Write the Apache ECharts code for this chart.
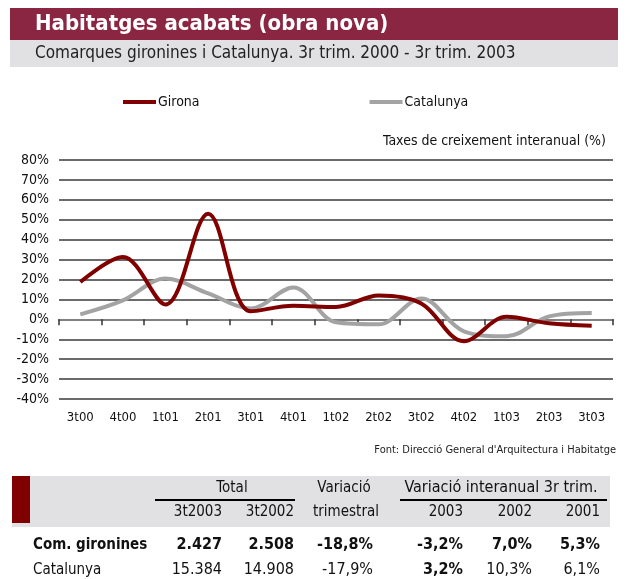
<!DOCTYPE html>
<html lang="ca" style="height: 100%">
<head>
    <meta charset="UTF-8">
    <title>Habitatges acabats (obra nova)</title>
    <script src="https://cdn.jsdelivr.net/npm/echarts@6/dist/echarts.min.js"></script>
</head>
<body style="height: 100%; margin: 0; background: #fff">
<div id="container" style="width: 630px; height: 579px"></div>
<script type="text/javascript">
    // dades del grafic
    var quarters = ['3t00', '4t00', '1t01', '2t01', '3t01', '4t01', '1t02', '2t02', '3t02', '4t02', '1t03', '2t03', '3t03'];
    var girona = [18.7, 31.3, 7.5, 53, 4, 6.8, 6.2, 12, 8, -11, 1.3, -2, -3.2];
    var catalunya = [2.5, 9.5, 20.5, 13, 5.5, 16, -1.5, -2.5, 10.5, -6, -8.5, 1.5, 3.2];

    // dades de la taula
    var rowNames = ['Com. gironines', 'Catalunya'];
    var total2003 = ['2.427', '15.384'];
    var total2002 = ['2.508', '14.908'];
    var varTrim = ['-18,8%', '-17,9%'];
    var inter2003 = ['-3,2%', '3,2%'];
    var inter2002 = ['7,0%', '10,3%'];
    var inter2001 = ['5,3%', '6,1%'];

    var FONT = '"DejaVu Sans Condensed", "DejaVu Sans", sans-serif';
    var RED = '#800000';
    var GREY = '#a3a3a3';

    function txt(x, y, s, opt) {
        opt = opt || {};
        return {
            type: 'text', x: x, y: y, silent: true,
            style: {
                text: s, fill: opt.color || '#111',
                font: (opt.weight || 'normal') + ' ' + (opt.size || 15) + 'px ' + FONT,
                textAlign: opt.align || 'left', textVerticalAlign: 'middle'
            }
        };
    }

    function tableGraphics() {
        var g = [];
        g.push({type: 'rect', shape: {x: 12, y: 476, width: 598, height: 51}, style: {fill: '#e1e1e3'}, silent: true});
        g.push({type: 'rect', shape: {x: 12, y: 476, width: 18, height: 47}, style: {fill: RED}, silent: true});
        g.push({type: 'line', shape: {x1: 155, y1: 500, x2: 295, y2: 500}, style: {stroke: '#000', lineWidth: 2}, silent: true});
        g.push({type: 'line', shape: {x1: 400, y1: 500, x2: 607, y2: 500}, style: {stroke: '#000', lineWidth: 2}, silent: true});
        g.push(txt(232, 488, 'Total', {align: 'center'}));
        g.push(txt(344, 488, 'Variació', {align: 'center'}));
        g.push(txt(501, 488, 'Variació interanual 3r trim.', {align: 'center', size: 16}));
        g.push(txt(222, 512, '3t2003', {align: 'right'}));
        g.push(txt(294, 512, '3t2002', {align: 'right'}));
        g.push(txt(346, 512, 'trimestral', {align: 'center'}));
        g.push(txt(463, 512, '2003', {align: 'right'}));
        g.push(txt(532, 512, '2002', {align: 'right'}));
        g.push(txt(600, 512, '2001', {align: 'right'}));
        for (var i = 0; i < rowNames.length; i++) {
            var y = 545 + i * 25;
            var w = i === 0 ? 'bold' : 'normal';
            g.push(txt(33, y, rowNames[i], {weight: w}));
            g.push(txt(222, y, total2003[i], {weight: w, size: 16, align: 'right'}));
            g.push(txt(294, y, total2002[i], {weight: w, size: 16, align: 'right'}));
            g.push(txt(373, y, varTrim[i], {weight: w, size: 16, align: 'right'}));
            g.push(txt(463, y, inter2003[i], {weight: 'bold', size: 16, align: 'right'}));
            g.push(txt(532, y, inter2002[i], {weight: w, size: 16, align: 'right'}));
            g.push(txt(600, y, inter2001[i], {weight: w, size: 16, align: 'right'}));
        }
        return g;
    }

    window.onload = function () {
        var myChart = echarts.init(document.getElementById('container'), null, {renderer: 'canvas'});

        var graphics = [
            {type: 'rect', shape: {x: 10, y: 8, width: 608, height: 32}, style: {fill: '#8a2642'}, silent: true},
            {type: 'rect', shape: {x: 10, y: 40, width: 608, height: 27}, style: {fill: '#e1e1e3'}, silent: true},
            txt(35, 24, 'Habitatges acabats (obra nova)', {color: '#fff', weight: 'bold', size: 22}),
            txt(35, 54, 'Comarques gironines i Catalunya. 3r trim. 2000 - 3r trim. 2003', {size: 17, color: '#222'}),
            txt(606, 141, 'Taxes de creixement interanual (%)', {size: 14, align: 'right'}),
            txt(616, 450, "Font: Direcció General d'Arquitectura i Habitatge", {size: 11, align: 'right', color: '#222'})
        ].concat(tableGraphics());

        var option = {
            animation: false,
            textStyle: {fontFamily: FONT},
            legend: {
                left: 118, top: 90, icon: 'rect', itemWidth: 33, itemHeight: 4, itemGap: 170,
                textStyle: {fontSize: 14, color: '#111', padding: [0, 0, 0, -3]},
                data: ['Girona', 'Catalunya']
            },
            graphic: graphics,
            grid: {left: 59, right: 17, top: 160, bottom: 180},
            xAxis: {
                type: 'category', data: quarters, boundaryGap: true,
                axisLine: {onZero: true, lineStyle: {color: '#808080', width: 2}},
                axisTick: {show: true, length: 6, lineStyle: {color: '#333', width: 1.5}},
                axisLabel: {fontSize: 13, color: '#111', margin: 12}
            },
            yAxis: {
                type: 'value', min: -40, max: 80, interval: 10,
                axisLine: {show: false}, axisTick: {show: false},
                axisLabel: {formatter: '{value}%', fontSize: 14, color: '#111', margin: 10},
                splitLine: {lineStyle: {color: '#3a3a3a', width: 1.5}}
            },
            series: [{
                name: 'Girona', type: 'line', data: girona, smooth: 0.35, z: 3,
                symbol: 'none', lineStyle: {color: RED, width: 4}, itemStyle: {color: RED}
            }, {
                name: 'Catalunya', type: 'line', data: catalunya, smooth: 0.35, z: 2,
                symbol: 'none', lineStyle: {color: GREY, width: 4}, itemStyle: {color: GREY}
            }]
        };

        myChart.setOption(option);
    };
</script>
</body>
</html>
